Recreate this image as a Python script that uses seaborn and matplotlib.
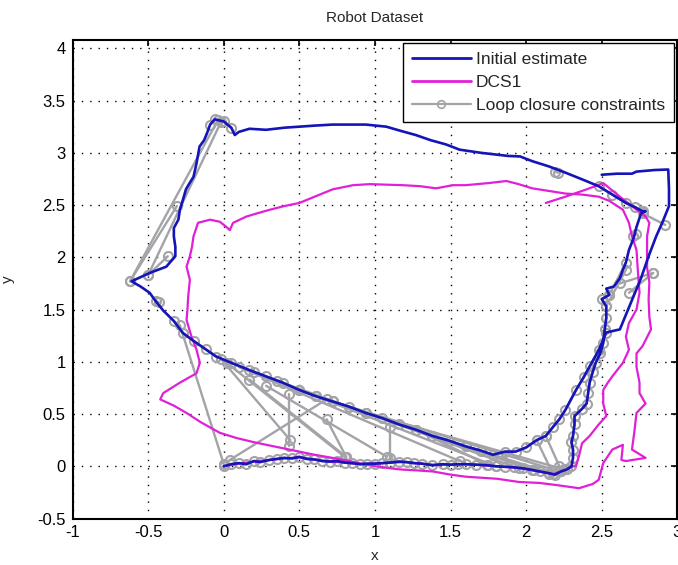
import numpy as np
import pandas as pd
import matplotlib
matplotlib.use("Agg")
import matplotlib.pyplot as plt
import seaborn as sns
from matplotlib.lines import Line2D

# ---------------- data ----------------
# Initial estimate (odometry), in sections along the trajectory
b_bottom = [(0.00,0.00),(0.05,0.02),(0.10,0.03),(0.15,0.02),(0.20,0.05),(0.24,0.04),(0.30,0.06),
            (0.35,0.07),(0.40,0.08),(0.45,0.075),(0.50,0.09),(0.55,0.07),(0.60,0.065),(0.65,0.05),
            (0.70,0.045),(0.75,0.05),(0.80,0.035),(0.85,0.03),(0.90,0.02),(0.95,0.025),(1.00,0.025),
            (1.05,0.03),(1.10,0.035),(1.16,0.045),(1.21,0.04),(1.26,0.03),(1.31,0.025),(1.38,0.01),
            (1.45,0.02),(1.50,0.015),(1.55,0.02),(1.60,0.02),(1.67,0.015),(1.74,0.01),(1.80,0.0),
            (1.86,-0.005),(1.92,-0.01),(1.98,-0.02),(2.04,-0.035),(2.09,-0.05),(2.15,-0.066),
            (2.19,-0.08),(2.23,-0.05),(2.27,-0.03),(2.30,0.00)]
b_right1 = [(2.31,0.08),(2.31,0.16),(2.30,0.23),(2.31,0.29),(2.32,0.40),(2.32,0.48),(2.37,0.55),
            (2.40,0.60),(2.41,0.70),(2.42,0.80),(2.44,0.90),(2.46,0.99),(2.49,1.08),(2.51,1.18),
            (2.52,1.31),(2.53,1.42),(2.53,1.53),(2.50,1.60),(2.55,1.64),(2.53,1.70),(2.58,1.72),
            (2.62,1.80),(2.64,1.88),(2.66,1.95),(2.68,2.07),(2.71,2.18),(2.73,2.29),(2.76,2.42),
            (2.79,2.44)]
b_top = [(2.77,2.44),(2.72,2.48),(2.66,2.52),(2.57,2.60),(2.48,2.68),(2.38,2.74),(2.26,2.81),
         (2.15,2.87),(2.04,2.92),(1.96,2.965),(1.88,2.97),(1.82,2.98),(1.70,3.00),(1.56,3.03),
         (1.47,3.08),(1.37,3.12),(1.27,3.17),(1.17,3.21),(1.075,3.25),(0.94,3.27),(0.83,3.27),
         (0.72,3.27),(0.60,3.26),(0.50,3.25),(0.40,3.24),(0.28,3.22),(0.17,3.23),(0.10,3.20),
         (0.073,3.17),(0.05,3.24),(0.00,3.30),(-0.06,3.32),(-0.09,3.27),(-0.11,3.19)]
b_left = [(-0.13,3.12),(-0.16,3.06),(-0.17,2.98),(-0.18,2.90),(-0.20,2.77),(-0.23,2.70),
          (-0.25,2.65),(-0.27,2.55),(-0.29,2.455),(-0.30,2.36),(-0.33,2.28),(-0.33,2.20),
          (-0.32,2.10),(-0.32,2.01),(-0.38,1.91),(-0.49,1.85),(-0.61,1.77)]
b_diag = [(-0.55,1.72),(-0.49,1.66),(-0.45,1.58),(-0.40,1.49),(-0.33,1.39),(-0.27,1.275),
          (-0.20,1.20),(-0.12,1.12),(-0.05,1.05),(0.05,0.99),(0.17,0.92),(0.28,0.86),(0.39,0.80),
          (0.50,0.73),(0.61,0.67),(0.72,0.62),(0.83,0.57),(0.94,0.51),(1.05,0.46),(1.16,0.40),
          (1.27,0.35),(1.38,0.29),(1.49,0.245),(1.60,0.19),(1.70,0.15),(1.78,0.11),(1.86,0.14),
          (1.93,0.14),(2.00,0.18),(2.07,0.25),(2.13,0.29),(2.18,0.38),(2.22,0.45),(2.26,0.54)]
b_right2 = [(2.33,0.73),(2.38,0.85),(2.42,0.955),(2.48,1.11),(2.53,1.28),(2.62,1.31),(2.70,1.59),
            (2.76,1.80),(2.81,2.01),(2.86,2.20),(2.90,2.33),(2.945,2.49),(2.945,2.65),(2.94,2.84),
            (2.85,2.835),(2.73,2.82),(2.70,2.80),(2.60,2.80),(2.50,2.79)]

# DCS1 (optimised trajectory)
m_bottom = [(0.00,0.00),(0.10,0.025),(0.20,0.045),(0.30,0.06),(0.40,0.075),(0.50,0.085),
            (0.60,0.065),(0.70,0.045),(0.80,0.035),(0.90,0.02),(1.00,0.025),(1.10,0.035),
            (1.20,0.04),(1.30,0.025),(1.40,0.012),(1.50,0.015),(1.60,0.02),(1.70,0.012),
            (1.80,0.0),(1.90,-0.01),(2.00,-0.028),(2.10,-0.055),(2.18,-0.075),(2.25,-0.04),
            (2.31,0.00)]
m_right1 = [(2.33,0.00),(2.35,0.10),(2.37,0.22),(2.42,0.29),(2.48,0.40),(2.53,0.48),(2.51,0.60),
            (2.51,0.73),(2.54,0.80),(2.57,0.86),(2.64,0.99),(2.68,1.115),(2.66,1.24),(2.68,1.37),
            (2.73,1.50),(2.75,1.66),(2.74,1.85),(2.73,2.07),(2.70,2.20),(2.68,2.33)]
m_top = [(2.64,2.455),(2.55,2.54),(2.48,2.58),(2.37,2.60),(2.26,2.61),(2.15,2.635),(2.04,2.66),
         (1.95,2.70),(1.87,2.73),(1.75,2.71),(1.60,2.69),(1.515,2.69),(1.405,2.66),(1.30,2.68),
         (1.185,2.69),(1.08,2.695),(0.965,2.70),(0.855,2.69),(0.72,2.65),(0.635,2.60),(0.50,2.52),
         (0.40,2.49),(0.305,2.455),(0.22,2.42),(0.15,2.39),(0.062,2.33),(0.04,2.26),(0.018,2.29),
         (-0.026,2.34),(-0.09,2.36),(-0.17,2.33)]
m_left = [(-0.20,2.20),(-0.21,2.10),(-0.224,2.01),(-0.246,1.91),(-0.224,1.785),(-0.235,1.625),
          (-0.24,1.50),(-0.246,1.40),(-0.213,1.24),(-0.18,1.115),(-0.158,0.99),(-0.18,0.89),
          (-0.29,0.80),(-0.40,0.70),(-0.42,0.64)]
m_lap2 = [(-0.33,0.58),(-0.246,0.51),(-0.15,0.42),(-0.026,0.32),(0.085,0.27),(0.20,0.23),
          (0.283,0.205),(0.40,0.17),(0.50,0.14),(0.60,0.11),(0.72,0.08),(0.83,0.05),(0.943,0.014),
          (1.05,-0.01),(1.163,-0.03),(1.28,-0.04),(1.383,-0.05),(1.50,-0.08),(1.60,-0.10),
          (1.70,-0.11),(1.81,-0.12),(1.95,-0.15),(2.09,-0.16),(2.20,-0.18),(2.30,-0.20),
          (2.35,-0.21),(2.44,-0.17),(2.48,-0.13),(2.51,0.03),(2.57,0.16),(2.64,0.205),(2.63,0.06),
          (2.66,0.05),(2.79,0.08),(2.70,0.16),(2.715,0.32),(2.73,0.51),(2.79,0.60),(2.75,0.70),
          (2.75,0.80),(2.73,0.95),(2.73,1.08),(2.77,1.15),(2.826,1.31),(2.815,1.43),(2.81,1.60),
          (2.815,1.76),(2.80,1.90),(2.80,2.05),(2.80,2.20),(2.815,2.33),(2.79,2.39),(2.73,2.455),
          (2.62,2.58),(2.51,2.71),(2.40,2.65),(2.26,2.58),(2.13,2.52)]

# Loop closure constraints: long links between poses (start, end)
closure_links = [
    ((-0.04,3.31),(-0.62,1.77)), ((-0.02,3.29),(-0.50,1.83)), ((-0.31,2.49),(-0.62,1.77)),
    ((-0.37,2.01),(-0.50,1.83)), ((-0.29,1.35),(0.00,0.02)), ((-0.02,1.03),(0.44,0.25)),
    ((0.02,0.99),(0.80,0.09)), ((0.17,0.83),(0.81,0.09)), ((0.28,0.77),(1.08,0.09)),
    ((0.10,0.95),(1.56,0.05)), ((0.20,0.90),(1.80,0.00)), ((0.35,0.82),(1.95,-0.02)),
    ((0.50,0.73),(2.05,-0.04)), ((0.61,0.67),(2.15,-0.07)), ((0.72,0.62),(2.22,-0.05)),
    ((0.94,0.51),(2.25,-0.03)), ((0.43,0.69),(0.43,0.19)), ((0.04,0.06),(0.68,0.64)),
    ((0.68,0.45),(0.81,0.09)), ((1.10,0.38),(1.10,0.08)), ((1.27,0.35),(1.75,0.01)),
    ((1.60,0.19),(2.18,-0.07)), ((2.13,0.29),(2.22,0.00)), ((2.07,0.25),(2.17,-0.05)),
    ((2.53,1.53),(2.66,1.88)), ((2.68,1.66),(2.84,1.85)), ((2.62,1.75),(2.84,1.85)),
    ((2.77,2.42),(2.92,2.31)), ((2.55,1.64),(2.66,1.95)), ((2.19,2.82),(2.21,2.81)),
    ((2.71,2.20),(2.73,2.22)), ((-0.45,1.58),(-0.43,1.57)),
]

TITLE = "Robot Dataset"
X_LABEL, Y_LABEL = "x", "y"
X_TICKS = [-1, -0.5, 0, 0.5, 1, 1.5, 2, 2.5, 3]
Y_TICKS = [-0.5, 0, 0.5, 1, 1.5, 2, 2.5, 3, 3.5, 4]
LABELS = ["Initial estimate", "DCS1", "Loop closure constraints"]

# ---------------- styling ----------------
BLUE = "#1414b8"
MAGENTA = "#e020d8"
GRAY = "#a3a3a8"

sns.set_style("white")
plt.rcParams["font.family"] = ["Liberation Sans", "DejaVu Sans"]
plt.rcParams["axes.unicode_minus"] = False

fig = plt.figure(figsize=(6.78, 5.65), dpi=100)
ax = fig.add_axes([0.107, 0.0823, 0.892, 0.847])

def to_df(points):
    return pd.DataFrame(points, columns=["x", "y"])

blue = to_df(b_bottom + b_right1 + b_top + b_left + b_diag + b_right2)
mag = to_df(m_bottom + m_right1 + m_top + m_left + m_lap2)

# loop closure chains: short links along the odometry (halo) + long links
halo_chains = [b_bottom, b_diag[4:] + b_right2[:5], b_right1[:19], b_top[:5], b_top[-5:-1]]
rows = []
cid = 0
for chain in halo_chains:
    for (x, y) in chain:
        rows.append((cid, x, y))
    cid += 1
for (p, q) in closure_links:
    rows.append((cid, p[0], p[1]))
    rows.append((cid, q[0], q[1]))
    cid += 1
gdf = pd.DataFrame(rows, columns=["cid", "x", "y"])

sns.lineplot(data=gdf, x="x", y="y", units="cid", estimator=None, sort=False, ax=ax,
             color=GRAY, linewidth=1.7, marker="o", markersize=6.5,
             markerfacecolor="none", markeredgecolor=GRAY, markeredgewidth=1.5,
             legend=False, zorder=2)
sns.lineplot(data=mag, x="x", y="y", sort=False, estimator=None, ax=ax,
             color=MAGENTA, linewidth=1.6, legend=False, zorder=3)
sns.lineplot(data=blue, x="x", y="y", sort=False, estimator=None, ax=ax,
             color=BLUE, linewidth=1.9, legend=False, zorder=4)

ax.set_xlim(-1, 3)
ax.set_ylim(-0.5, 4.08)
ax.set_xticks(X_TICKS)
ax.set_yticks(Y_TICKS)
ax.set_xticklabels([f"{t:g}" for t in X_TICKS])
ax.set_yticklabels([f"{t:g}" for t in Y_TICKS])
ax.tick_params(direction="in", length=4, width=1.2, top=True, right=True,
               labelsize=12, colors="black", pad=5)
for s in ax.spines.values():
    s.set_visible(True)
    s.set_color("black")
    s.set_linewidth(1.5)
ax.grid(True, color="black", linestyle=(0, (1, 5)), linewidth=1.0)
ax.set_axisbelow(True)

ax.set_title(TITLE, fontsize=11, pad=13)
ax.set_xlabel(X_LABEL, fontsize=11, labelpad=6)
ax.set_ylabel(Y_LABEL, fontsize=11, labelpad=16)

handles = [Line2D([], [], color=BLUE, linewidth=2),
           Line2D([], [], color=MAGENTA, linewidth=2),
           Line2D([], [], color=GRAY, linewidth=1.6, marker="o", markersize=5.5,
                  markerfacecolor="none", markeredgecolor=GRAY, markeredgewidth=1.2)]
leg = ax.legend(handles, LABELS, loc="upper right", fontsize=12.5, frameon=True,
                fancybox=False, framealpha=1, edgecolor="black", borderpad=0.5,
                labelspacing=0.45, handlelength=3.4, handletextpad=0.3,
                borderaxespad=0.2)
leg.get_frame().set_linewidth(1.0)
leg.set_zorder(10)

fig.savefig("out.png", dpi=100)
